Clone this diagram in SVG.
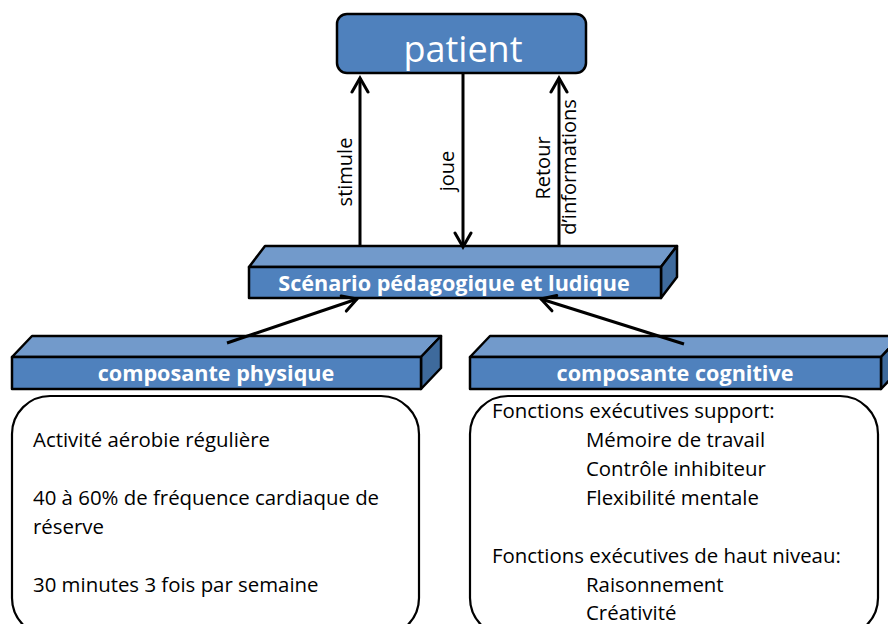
<svg xmlns="http://www.w3.org/2000/svg" width="888" height="624" viewBox="0 0 888 624">
<defs>
<style>
.front{fill:#4F81BD;stroke:#000;stroke-width:2.5;stroke-linejoin:round}
.top{fill:#729ACB;stroke:#000;stroke-width:2.5;stroke-linejoin:round}
.side{fill:#3E6A9C;stroke:#000;stroke-width:2.5;stroke-linejoin:round}
.bar{font-family:"Open Sans","Liberation Sans",sans-serif;font-weight:bold;font-size:21.6px;fill:#fff;text-anchor:middle}
.lbl{font-family:"Open Sans","Liberation Sans",sans-serif;font-size:20px;fill:#000;text-anchor:middle}
.body{font-family:"Open Sans","Liberation Sans",sans-serif;font-size:20.4px;fill:#000}
.box{fill:#fff;stroke:#000;stroke-width:2.2}
.conn{stroke:#000;stroke-width:3;fill:none}
.head{stroke:#000;stroke-width:3;fill:none;stroke-linecap:round;stroke-linejoin:miter}
</style>
<marker id="arr" viewBox="0 0 20 20" refX="17" refY="10" markerWidth="20" markerHeight="20" markerUnits="userSpaceOnUse" orient="auto">
<path d="M3,2 L17,10 L3,18" class="head"/>
</marker>
</defs>
<rect width="888" height="624" fill="#fff"/>

<g id="patient">
<rect x="337" y="14" width="249" height="59" rx="10" fill="#4F81BD" stroke="#000" stroke-width="2.5"/>
<text x="463" y="62" font-family="Open Sans, Liberation Sans, sans-serif" font-size="36" fill="#fff" text-anchor="middle">patient</text>
</g>

<g id="scenario">
<polygon class="top" points="249,267 265,246 677,246 661,267"/>
<polygon class="side" points="661,267 677,246 677,277 661,298"/>
<rect class="front" x="249" y="267" width="412" height="31"/>
<text class="bar" x="454" y="291">Scénario pédagogique et ludique</text>
</g>

<g id="physique">
<polygon class="top" points="12,357 32,336 441,336 421,357"/>
<polygon class="side" points="421,357 441,336 441,368 421,389"/>
<rect class="front" x="12" y="357" width="409" height="32"/>
<text class="bar" x="216" y="381">composante physique</text>
</g>

<g id="cognitive">
<polygon class="top" points="470,357 490,336 901,336 881,357"/>
<polygon class="side" points="881,357 901,336 901,368 881,389"/>
<rect class="front" x="470" y="357" width="411" height="32"/>
<text class="bar" x="675" y="381">composante cognitive</text>
</g>

<g id="physique-details">
<rect class="box" x="12" y="396" width="407" height="240" rx="38"/>
<text class="body" x="33" y="447">Activité aérobie régulière</text>
<text class="body" x="33" y="505">40 à 60% de fréquence cardiaque de</text>
<text class="body" x="33" y="534">réserve</text>
<text class="body" x="33" y="592">30 minutes 3 fois par semaine</text>
</g>

<g id="cognitive-details">
<rect class="box" x="470" y="396" width="408" height="240" rx="38"/>
<text class="body" x="492" y="418">Fonctions exécutives support:</text>
<text class="body" x="586" y="447">Mémoire de travail</text>
<text class="body" x="586" y="476">Contrôle inhibiteur</text>
<text class="body" x="586" y="505">Flexibilité mentale</text>
<text class="body" x="492" y="563">Fonctions exécutives de haut niveau:</text>
<text class="body" x="586" y="592">Raisonnement</text>
<text class="body" x="586" y="620">Créativité</text>
</g>

<g id="connectors">
<line class="conn" x1="360" y1="246" x2="360" y2="78" marker-end="url(#arr)"/>
<line class="conn" x1="463" y1="74" x2="463" y2="247" marker-end="url(#arr)"/>
<line class="conn" x1="559" y1="246" x2="559" y2="78" marker-end="url(#arr)"/>
<line class="conn" x1="227" y1="343" x2="357" y2="299" marker-end="url(#arr)"/>
<line class="conn" x1="684" y1="344" x2="541" y2="299" marker-end="url(#arr)"/>
<text class="lbl" transform="translate(352,172) rotate(-90)">stimule</text>
<text class="lbl" transform="translate(454,171) rotate(-90)">joue</text>
<text class="lbl" transform="translate(550,168) rotate(-90)">Retour</text>
<text class="lbl" transform="translate(576,167) rotate(-90)">d’informations</text>
</g>
</svg>
